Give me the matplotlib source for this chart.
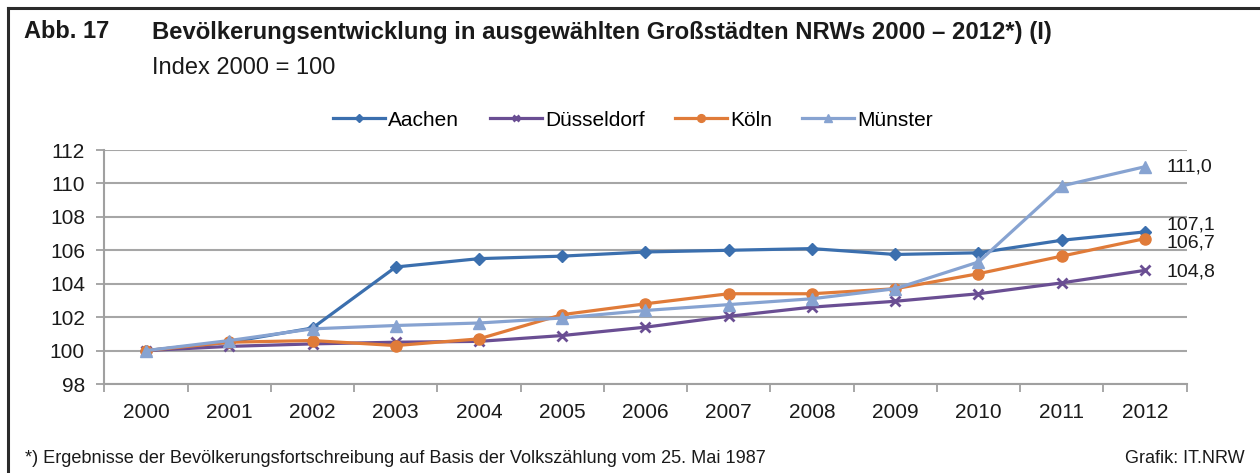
"""Bevölkerungsentwicklung in ausgewählten Großstädten NRWs 2000-2012."""

import matplotlib

matplotlib.use("Agg")

import matplotlib.pyplot as plt
import numpy as np
from matplotlib.lines import Line2D

plt.rcParams["font.family"] = ["Liberation Sans", "DejaVu Sans"]

years = ["2000", "2001", "2002", "2003", "2004", "2005", "2006",
         "2007", "2008", "2009", "2010", "2011", "2012"]
aachen = [100.0, 100.5, 101.35, 105.0, 105.5, 105.65, 105.9,
          106.0, 106.1, 105.75, 105.85, 106.6, 107.1]
duesseldorf = [100.0, 100.25, 100.4, 100.5, 100.55, 100.9, 101.4,
               102.05, 102.6, 102.95, 103.4, 104.05, 104.8]
koeln = [100.0, 100.5, 100.6, 100.3, 100.7, 102.15, 102.8,
         103.4, 103.4, 103.7, 104.6, 105.65, 106.7]
muenster = [100.0, 100.6, 101.3, 101.5, 101.65, 101.95, 102.4,
            102.75, 103.1, 103.7, 105.3, 109.85, 111.0]
end_labels = ["107,1", "104,8", "106,7", "111,0"]
# small vertical nudges (points) so the close end labels do not collide
label_nudge = [5, -1, -3, 0]

W, H = 1260, 473
fig = plt.figure(figsize=(W / 100, H / 100), dpi=100)


def px(x, y):
    return x / W, 1 - y / H


# frame (top and left only)
fig.add_artist(Line2D([px(8, 0)[0], 1.0], [px(0, 8)[1]] * 2, color="#2b2b2b", lw=2.2))
fig.add_artist(Line2D([px(8, 0)[0]] * 2, [px(0, 8)[1], 0.0], color="#2b2b2b", lw=2.2))

fig.text(*px(24, 32), "Abb. 17", fontsize=17, fontweight="bold", va="center", color="#1a1a1a")
fig.text(*px(152, 32), "Bevölkerungsentwicklung in ausgewählten Großstädten NRWs 2000 – 2012*) (I)",
         fontsize=17.2, fontweight="bold", va="center", color="#1a1a1a")
fig.text(*px(152, 68), "Index 2000 = 100", fontsize=17, va="center", color="#1a1a1a")
fig.text(*px(25, 458), "*) Ergebnisse der Bevölkerungsfortschreibung auf Basis der Volkszählung vom 25. Mai 1987",
         fontsize=13.1, va="center", color="#1a1a1a")
fig.text(*px(1245, 458), "Grafik: IT.NRW", fontsize=13, va="center", ha="right", color="#1a1a1a")

ax = fig.add_axes([104.4 / W, (H - 384) / H, (1186.6 - 104.4) / W, 234 / H])
x = np.arange(len(years))

series = [
    ("Aachen", aachen, "#3b6fae", "D", 6),
    ("Düsseldorf", duesseldorf, "#6a4e93", "x", 7),
    ("Köln", koeln, "#e07b39", "o", 8),
    ("Münster", muenster, "#87a3d1", "^", 9),
]
for (name, vals, color, marker, ms), lab, dy in zip(series, end_labels, label_nudge):
    ax.plot(x, vals, color=color, lw=2.3, marker=marker, ms=ms, mew=2 if marker == "x" else 1,
            mec=color, mfc=color, label=name, clip_on=False)
    ax.annotate(lab, (x[-1], vals[-1]), xytext=(15.5, dy), textcoords="offset points",
                fontsize=14, va="center", color="#1a1a1a")

ax.set_xlim(-0.5, len(years) - 0.5)
ax.set_ylim(98, 112)
ax.set_yticks(np.arange(98, 113, 2))
ax.set_xticks(x)
ax.set_xticklabels(years)
ax.set_xticks(np.arange(-0.5, len(years), 1), minor=True)
ax.tick_params(axis="x", which="major", length=0, pad=14, labelsize=15, labelcolor="#1a1a1a")
ax.tick_params(axis="x", which="minor", length=6, width=1.3, color="#a0a0a0")
ax.tick_params(axis="y", length=6, width=1.3, color="#a0a0a0", pad=8, labelsize=15, labelcolor="#1a1a1a")
ax.grid(axis="y", color="#a6a6a6", lw=1.5)
ax.set_axisbelow(True)
for side in ("top", "right"):
    ax.spines[side].set_visible(False)
for side in ("left", "bottom"):
    ax.spines[side].set_color("#a0a0a0")
    ax.spines[side].set_linewidth(1.5)

fig.legend(loc="center", bbox_to_anchor=px(633, 120), ncol=4, frameon=False, fontsize=15,
           handlelength=2.5, handletextpad=0.15, columnspacing=1.45, markerscale=0.7)

fig.savefig("out.png", dpi=100)
plt.close(fig)
